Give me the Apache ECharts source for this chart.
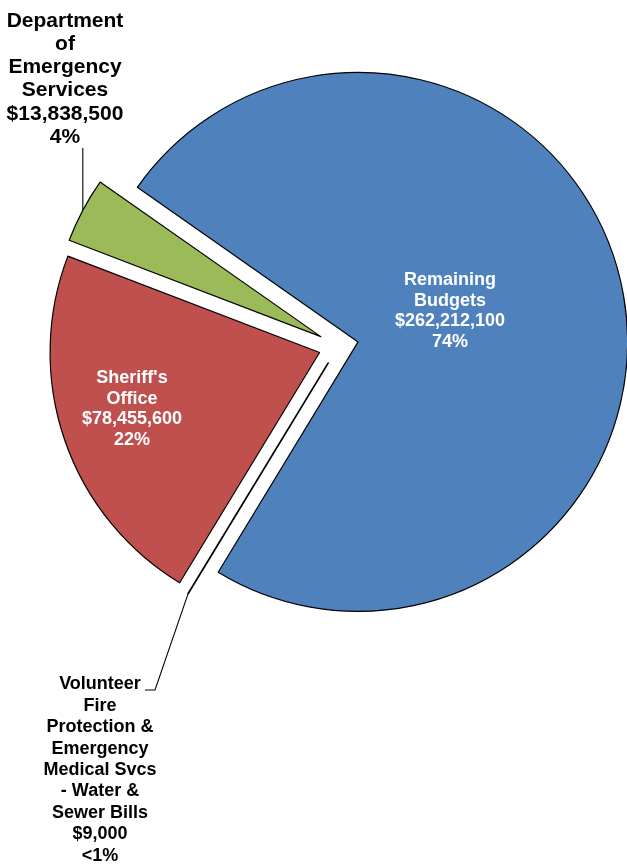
<!DOCTYPE html>
<html>
<head>
<meta charset="utf-8">
<script src="https://cdn.jsdelivr.net/npm/echarts@6/dist/echarts.min.js"></script>
<style>
  html, body { margin: 0; padding: 0; background: #fff; }
  #chart { width: 627px; height: 865px; }
</style>
</head>
<body>
<div id="chart"></div>
<script>
// slice order goes clockwise from the upper-left edge of the blue slice
const names = ['Remaining Budgets', 'Volunteer Fire Protection & Emergency Medical Svcs - Water & Sewer Bills', "Sheriff's Office", 'Department of Emergency Services']
const nameLines = [
  ['Remaining', 'Budgets'],
  ['Volunteer', 'Fire', 'Protection &', 'Emergency', 'Medical Svcs', '- Water &', 'Sewer Bills'],
  ["Sheriff's", 'Office'],
  ['Department', 'of', 'Emergency', 'Services']
]
const amounts = [262212100, 9000, 78455600, 13838500]
const pctLabels = ['74%', '<1%', '22%', '4%']
const colors = ['#4F81BD', '#8064A2', '#C0504D', '#9BBB59']

const CX = 338.5
const CY = 346
const R = 269.5
const START = 145
const OFFSET = 20

const total = amounts.reduce((a, b) => a + b, 0)

// mid angle (degrees, math convention) of slice i
const midAngle = i => {
  let cum = 0
  for (let k = 0; k < i; k++) cum += amounts[k]
  return START - 360 * (cum + amounts[i] / 2) / total
}
// centre of an exploded slice
const sliceCenter = i => {
  const a = midAngle(i) * Math.PI / 180
  return [CX + OFFSET * Math.cos(a), CY - OFFSET * Math.sin(a)]
}
// point on the outer arc of an exploded slice, at its mid angle
const outerPoint = i => {
  const a = midAngle(i) * Math.PI / 180
  return [CX + (R + OFFSET) * Math.cos(a), CY - (R + OFFSET) * Math.sin(a)]
}

const fmtMoney = v => '$' + v.toLocaleString('en-US')

// where each label block sits
const labelPos = [
  { x: 450, y: 311 },
  { x: 100, y: 770 },
  { x: 132, y: 409 },
  { x: 65, y: 79 }
]

const chart = echarts.init(document.getElementById('chart'))

// one pie per slice so every slice can be pulled out from the centre
const series = amounts.map((_, s) => {
  const inside = s === 0 || s === 2
  return {
    type: 'pie',
    center: sliceCenter(s),
    radius: R,
    startAngle: START,
    clockwise: true,
    avoidLabelOverlap: false,
    minAngle: 0,
    silent: true,
    emphasis: { disabled: true },
    label: {
      show: false,
      fontFamily: 'Liberation Sans, Arial, sans-serif',
      fontWeight: 'bold',
      align: 'center',
      formatter: p => nameLines[p.dataIndex].join('\n') + '\n' + fmtMoney(amounts[p.dataIndex]) + '\n' + pctLabels[p.dataIndex]
    },
    labelLine: { show: false },
    labelLayout: params => {
      const i = params.dataIndex
      if (i !== s) return {}
      const pos = labelPos[i]
      const out = { x: pos.x, y: pos.y, align: 'center', verticalAlign: 'middle' }
      if (i === 3) {
        const p = outerPoint(3)
        out.labelLinePoints = [p, [p[0], 148]]
      } else if (i === 1) {
        const p = outerPoint(1)
        out.labelLinePoints = [p, [155, 690], [145, 690]]
      }
      return out
    },
    data: amounts.map((v, i) => {
      if (i !== s) {
        return { name: names[i], value: v, itemStyle: { color: 'rgba(0,0,0,0)', borderWidth: 0 } }
      }
      return {
        name: names[i],
        value: v,
        itemStyle: { color: colors[i], borderColor: '#000', borderWidth: i === 1 ? 1.7 : 1.2 },
        label: {
          show: true,
          position: inside ? 'inside' : 'outside',
          color: inside ? '#fff' : '#000',
          fontSize: i === 3 ? 21 : 18,
          lineHeight: i === 3 ? 23.3 : (i === 1 ? 21.4 : 20.8)
        },
        labelLine: {
          show: !inside,
          lineStyle: { color: '#000', width: 1.1 }
        }
      }
    })
  }
})

chart.setOption({
  animation: false,
  series
})
</script>
</body>
</html>
